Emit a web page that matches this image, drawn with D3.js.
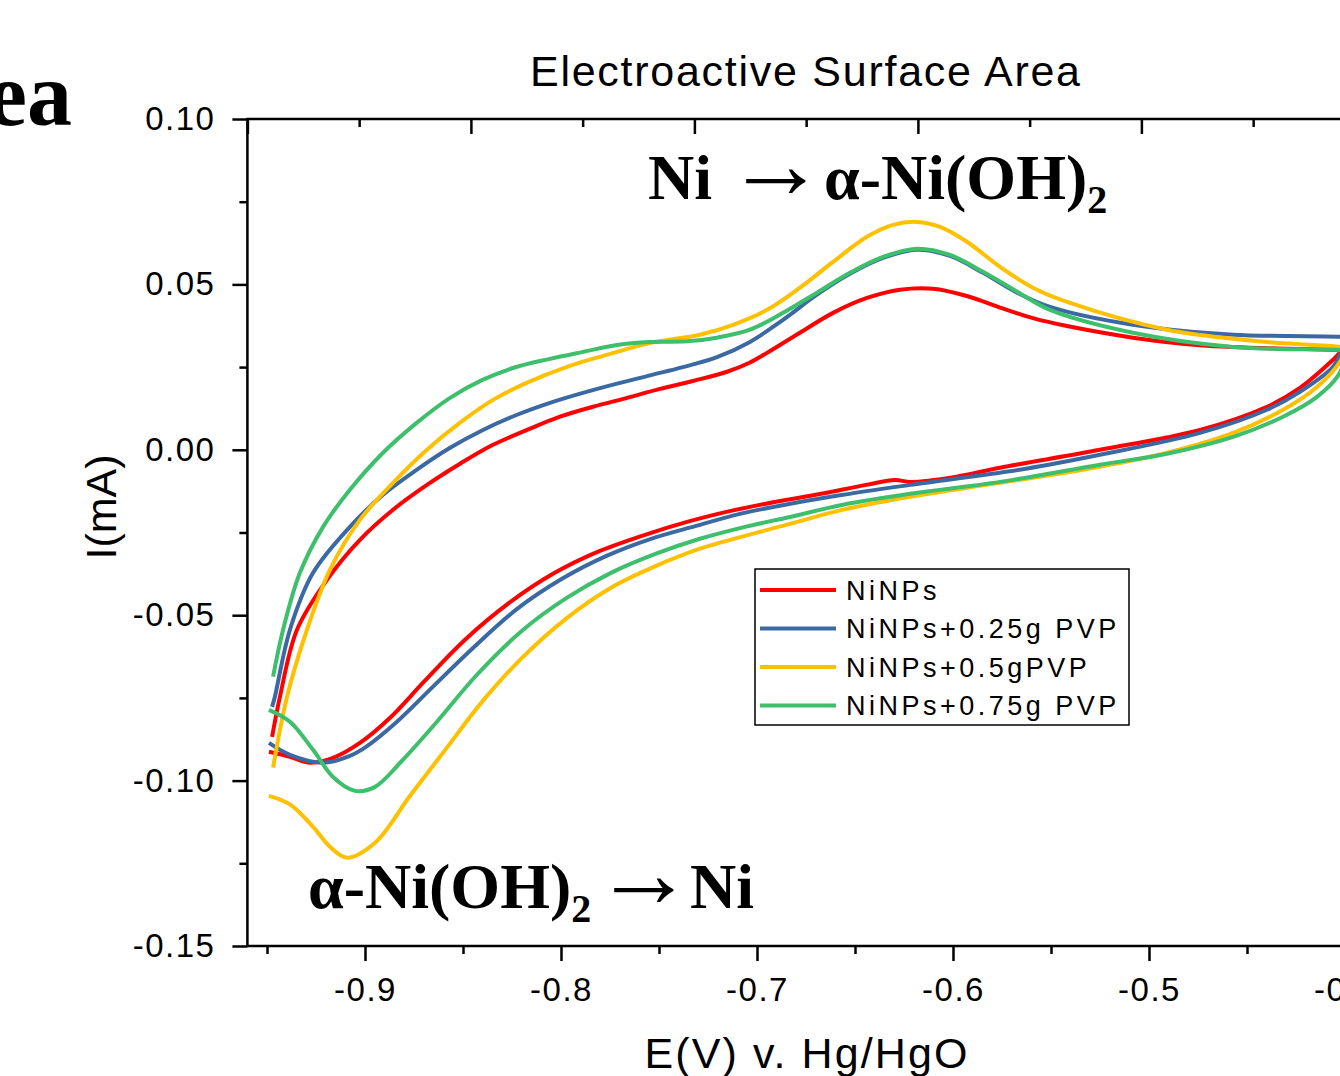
<!DOCTYPE html>
<html>
<head>
<meta charset="utf-8">
<script src="https://cdn.jsdelivr.net/npm/d3@7"></script>
<style>
body{margin:0;background:#fff;}
svg{display:block;}
.tick text{font-family:"Liberation Sans",Arial,sans-serif;}
</style>
</head>
<body>
<div id="graph-body"></div>
<script>
// CV curves, E (V vs Hg/HgO) , I (mA) - anodic branch then cathodic branch
var seriesNames=["NiNPs","NiNPs+0.25g PVP","NiNPs+0.5gPVP","NiNPs+0.75g PVP"];
var seriesColors=["#FF0000","#3A69A3","#FFC000","#3DBF6B"];

var niNPs=[
[-0.9474,-0.0868],[-0.9434,-0.0747],[-0.9347,-0.0544],[-0.9194,-0.0393],[-0.9026,-0.0272],
[-0.8857,-0.0181],[-0.8684,-0.0106],[-0.8515,-0.0042],[-0.8347,0.0015],[-0.8173,0.0060],
[-0.8005,0.0100],[-0.7837,0.0130],[-0.7663,0.0157],[-0.7495,0.0184],[-0.7327,0.0208],
[-0.7153,0.0236],[-0.7036,0.0264],[-0.6949,0.0293],[-0.6781,0.0354],[-0.6612,0.0414],
[-0.6439,0.0459],[-0.6270,0.0484],[-0.6102,0.0487],[-0.5929,0.0465],[-0.5760,0.0430],
[-0.5592,0.0398],[-0.5418,0.0374],[-0.5082,0.0339],[-0.4740,0.0316],[-0.4026,0.0302],
[-0.4000,0.0302],
[-0.4026,0.0293],[-0.4061,0.0272],[-0.4230,0.0187],[-0.4398,0.0130],[-0.4740,0.0060],
[-0.5250,0.0000],[-0.5760,-0.0054],[-0.5990,-0.0082],[-0.6219,-0.0097],[-0.6296,-0.0091],
[-0.6444,-0.0106],[-0.6673,-0.0133],[-0.6903,-0.0157],[-0.7128,-0.0184],[-0.7357,-0.0218],
[-0.7587,-0.0260],[-0.7811,-0.0308],[-0.8041,-0.0375],[-0.8265,-0.0463],[-0.8495,-0.0577],
[-0.8699,-0.0701],[-0.8872,-0.0810],[-0.9026,-0.0886],[-0.9163,-0.0931],[-0.9281,-0.0946],
[-0.9383,-0.0928],[-0.9490,-0.0913]
];

var pvp025=[
[-0.9474,-0.0777],[-0.9460,-0.0747],[-0.9383,-0.0544],[-0.9265,-0.0372],[-0.9077,-0.0233],
[-0.8908,-0.0136],[-0.8735,-0.0060],[-0.8566,0.0006],[-0.8398,0.0060],[-0.8224,0.0106],
[-0.8056,0.0142],[-0.7888,0.0172],[-0.7714,0.0200],[-0.7546,0.0225],[-0.7378,0.0250],
[-0.7204,0.0280],[-0.7036,0.0326],[-0.6867,0.0393],[-0.6694,0.0469],[-0.6526,0.0532],
[-0.6357,0.0580],[-0.6184,0.0605],[-0.6015,0.0586],[-0.5847,0.0535],[-0.5673,0.0475],
[-0.5505,0.0432],[-0.5082,0.0378],[-0.4571,0.0348],[-0.4026,0.0342],[-0.4000,0.0340],
[-0.4026,0.0287],[-0.4061,0.0251],[-0.4230,0.0175],[-0.4398,0.0121],[-0.4740,0.0051],
[-0.5250,-0.0015],[-0.5628,-0.0057],[-0.6219,-0.0106],[-0.6561,-0.0136],[-0.6857,-0.0166],
[-0.7082,-0.0193],[-0.7311,-0.0230],[-0.7541,-0.0269],[-0.7765,-0.0320],[-0.7995,-0.0390],
[-0.8224,-0.0481],[-0.8449,-0.0599],[-0.8653,-0.0716],[-0.8837,-0.0822],[-0.8995,-0.0898],
[-0.9077,-0.0925],[-0.9214,-0.0946],[-0.9383,-0.0922],[-0.9490,-0.0886]
];

var pvp05=[
[-0.9469,-0.0961],[-0.9398,-0.0747],[-0.9296,-0.0544],[-0.9179,-0.0363],[-0.9026,-0.0212],
[-0.8857,-0.0100],[-0.8684,0.0000],[-0.8515,0.0082],[-0.8347,0.0151],[-0.8173,0.0203],
[-0.7969,0.0251],[-0.7714,0.0296],[-0.7546,0.0323],[-0.7291,0.0348],[-0.7122,0.0378],
[-0.6949,0.0423],[-0.6781,0.0490],[-0.6612,0.0568],[-0.6439,0.0644],[-0.6306,0.0680],
[-0.6184,0.0689],[-0.6066,0.0674],[-0.5929,0.0629],[-0.5760,0.0553],[-0.5592,0.0490],
[-0.5418,0.0447],[-0.4908,0.0363],[-0.4398,0.0326],[-0.4026,0.0311],[-0.4000,0.0308],
[-0.4026,0.0266],[-0.4143,0.0190],[-0.4316,0.0121],[-0.4571,0.0051],[-0.4908,-0.0009],
[-0.5250,-0.0051],[-0.5760,-0.0100],[-0.6219,-0.0142],[-0.6561,-0.0181],[-0.6832,-0.0224],
[-0.7061,-0.0260],[-0.7291,-0.0299],[-0.7515,-0.0351],[-0.7745,-0.0417],[-0.7969,-0.0508],
[-0.8199,-0.0629],[-0.8403,-0.0762],[-0.8587,-0.0904],[-0.8770,-0.1046],[-0.8949,-0.1188],
[-0.9092,-0.1233],[-0.9179,-0.1200],[-0.9265,-0.1140],[-0.9383,-0.1072],[-0.9490,-0.1046]
];

var pvp075=[
[-0.9469,-0.0686],[-0.9418,-0.0544],[-0.9332,-0.0372],[-0.9214,-0.0233],[-0.9077,-0.0121],
[-0.8908,-0.0009],[-0.8735,0.0082],[-0.8566,0.0157],[-0.8398,0.0212],[-0.8224,0.0251],
[-0.8056,0.0275],[-0.7888,0.0296],[-0.7714,0.0317],[-0.7546,0.0326],[-0.7357,0.0328],
[-0.7204,0.0339],[-0.7036,0.0363],[-0.6867,0.0414],[-0.6694,0.0475],[-0.6526,0.0535],
[-0.6357,0.0583],[-0.6184,0.0608],[-0.6015,0.0589],[-0.5847,0.0538],[-0.5673,0.0478],
[-0.5505,0.0423],[-0.5082,0.0354],[-0.4571,0.0311],[-0.4026,0.0302],[-0.4000,0.0300],
[-0.4026,0.0233],[-0.4143,0.0160],[-0.4316,0.0100],[-0.4571,0.0039],[-0.4908,-0.0012],
[-0.5250,-0.0045],[-0.5760,-0.0097],[-0.6219,-0.0133],[-0.6561,-0.0166],[-0.6832,-0.0203],
[-0.7061,-0.0233],[-0.7291,-0.0269],[-0.7515,-0.0314],[-0.7745,-0.0372],[-0.7969,-0.0447],
[-0.8199,-0.0547],[-0.8429,-0.0680],[-0.8633,-0.0822],[-0.8816,-0.0943],[-0.8949,-0.1019],
[-0.9051,-0.1031],[-0.9163,-0.0989],[-0.9265,-0.0907],[-0.9383,-0.0822],[-0.9490,-0.0786]
];

var allSeries=[niNPs,pvp025,pvp05,pvp075];

var xMajor=[-0.9,-0.8,-0.7,-0.6,-0.5,-0.4];
var xMinor=[-0.95,-0.85,-0.75,-0.65,-0.55,-0.45];
var yMajor=[0.10,0.05,0.00,-0.05,-0.10,-0.15];
var yMinor=[0.075,0.025,-0.025,-0.075,-0.125];
var topMajor=[0,1,2,3,4];
var topMinor=[0.5,1.5,2.5,3.5,4.5];
var xLabels=["-0.9","-0.8","-0.7","-0.6","-0.5","-0.4"];
var yLabels=["0.10","0.05","0.00","-0.05","-0.10","-0.15"];

var W=1340,H=1076;
var sans='"Liberation Sans",Arial,sans-serif';
var serif='"Liberation Serif","Times New Roman",serif';

var xScale=d3.scaleLinear().domain([-0.96,-0.4]).range([247.4,1345]);
var yScale=d3.scaleLinear().domain([-0.15,0.10]).range([946,119]);
var xTop=d3.scaleLinear().domain([0,4.911]).range([247.4,1345]);

var svg=d3.select("#graph-body").append("svg")
    .attr("width",W).attr("height",H);

// panel title, cut off on the left in the source
svg.append("text")
    .attr("x",72).attr("y",125)
    .attr("text-anchor","end")
    .style("font-family",serif).style("font-weight","bold")
    .style("font-size","90px")
    .text("ea");

svg.append("text")
    .attr("x",805).attr("y",86)
    .attr("text-anchor","middle")
    .attr("textLength",550).attr("lengthAdjust","spacing")
    .style("font-family",sans).style("font-size","43px")
    .text("Electroactive Surface Area");

var pLeft=xScale.range()[0],pRight=xScale.range()[1];
var pTop=yScale.range()[1],pBottom=yScale.range()[0];

function styleAxis(g){
    g.select(".domain").remove();
    g.selectAll(".tick line").attr("stroke","#000").attr("stroke-width",2.5);
}

// bottom
svg.append("g").attr("transform","translate(0,"+pBottom+")")
    .call(d3.axisBottom(xScale).tickValues(xMajor).tickSize(15).tickPadding(17)
        .tickFormat(function(d,i){return xLabels[i];}))
    .call(styleAxis)
    .selectAll("text").style("font-size","33px").style("letter-spacing","1.5px").attr("fill","#000");
svg.append("g").attr("transform","translate(0,"+pBottom+")")
    .call(d3.axisBottom(xScale).tickValues(xMinor).tickSize(8).tickFormat(""))
    .call(styleAxis);

// left
svg.append("g").attr("transform","translate("+pLeft+",0)")
    .call(d3.axisLeft(yScale).tickValues(yMajor).tickSize(15).tickPadding(17)
        .tickFormat(function(d,i){return yLabels[i];}))
    .call(styleAxis)
    .selectAll("text").style("font-size","33px").style("letter-spacing","1.5px").attr("fill","#000");
svg.append("g").attr("transform","translate("+pLeft+",0)")
    .call(d3.axisLeft(yScale).tickValues(yMinor).tickSize(8).tickFormat(""))
    .call(styleAxis);

// top (ticks inward, no labels)
svg.append("g").attr("transform","translate(0,"+pTop+")")
    .call(d3.axisTop(xTop).tickValues(topMajor).tickSize(-15).tickFormat(""))
    .call(styleAxis);
svg.append("g").attr("transform","translate(0,"+pTop+")")
    .call(d3.axisTop(xTop).tickValues(topMinor).tickSize(-8).tickFormat(""))
    .call(styleAxis);

// frame
svg.append("rect")
    .attr("x",pLeft).attr("y",pTop)
    .attr("width",pRight-pLeft).attr("height",pBottom-pTop)
    .attr("fill","none").attr("stroke","#000").attr("stroke-width",2.5);

// axis titles
svg.append("text")
    .attr("x",806).attr("y",1068)
    .attr("text-anchor","middle")
    .attr("textLength",323).attr("lengthAdjust","spacing")
    .style("font-family",sans).style("font-size","43px")
    .text("E(V) v. Hg/HgO");

svg.append("text")
    .attr("transform","translate(116,507) rotate(-90)")
    .attr("text-anchor","middle")
    .attr("textLength",105).attr("lengthAdjust","spacing")
    .style("font-family",sans).style("font-size","43px")
    .text("I(mA)");

// curves
var valueline=d3.line()
    .x(function(d){return xScale(d[0]);})
    .y(function(d){return yScale(d[1]);})
    .curve(d3.curveCatmullRom.alpha(0.5));

svg.append("g").selectAll("path")
    .data(allSeries)
    .enter().append("path")
    .attr("d",valueline)
    .attr("fill","none")
    .attr("stroke",function(d,i){return seriesColors[i];})
    .attr("stroke-width",4)
    .attr("stroke-linejoin","round");

// annotations
var a1=svg.append("text")
    .attr("y",199)
    .style("font-family",serif).style("font-weight","bold")
    .style("font-size","64px");
a1.append("tspan").attr("x",648).text("Ni");
a1.append("tspan").attr("x",726).attr("dy",-1).style("font-size","100px").style("font-weight","normal").text("\u2192");
a1.append("tspan").attr("x",824).attr("dy",1).text("\u03b1-Ni(OH)");
a1.append("tspan").attr("dy",14).style("font-size","40px").text("2");

var a2=svg.append("text")
    .attr("y",908)
    .style("font-family",serif).style("font-weight","bold")
    .style("font-size","64px");
a2.append("tspan").attr("x",308).text("\u03b1-Ni(OH)");
a2.append("tspan").attr("dy",14).style("font-size","40px").text("2");
a2.append("tspan").attr("x",594).attr("dy",-15).style("font-size","100px").style("font-weight","normal").text("\u2192");
a2.append("tspan").attr("x",690).attr("dy",1).text("Ni");

// legend
var legend=svg.append("g").attr("transform","translate(755,569)");
legend.append("rect")
    .attr("width",374).attr("height",156)
    .attr("fill","#fff").attr("stroke","#000").attr("stroke-width",1.5);
var rows=legend.selectAll(".row").data(seriesNames).enter().append("g")
    .attr("class","row")
    .attr("transform",function(d,i){return "translate(0,"+(21+i*38.5)+")";});
rows.append("line")
    .attr("x1",5).attr("x2",81)
    .attr("stroke",function(d,i){return seriesColors[i];})
    .attr("stroke-width",4);
rows.append("text")
    .attr("x",91).attr("dy","0.36em")
    .style("font-family",sans).style("font-size","27px")
    .style("letter-spacing","3.5px")
    .text(function(d){return d;});
</script>
</body>
</html>
